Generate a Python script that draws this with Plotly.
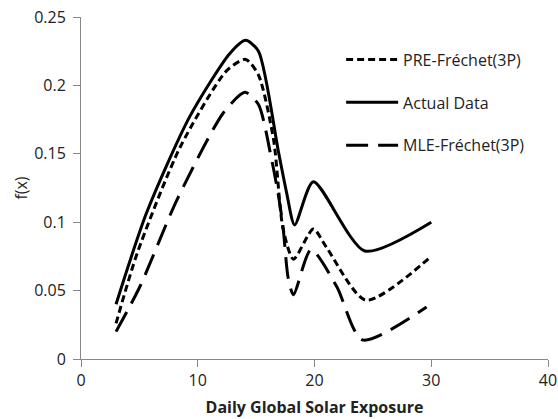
import plotly.graph_objects as go

# Actual data
act_x = [3, 5.6, 9.3, 12.75, 14.1, 15.2, 16.9, 17.6, 18.3, 19.9, 24.3, 30]
act_y = [0.040, 0.1065, 0.177, 0.2234, 0.233, 0.225, 0.152, 0.122, 0.098, 0.1296, 0.079, 0.100]

# PRE-Fréchet(3P)
pre_x = [3, 4.8, 8.5, 12.5, 14.1, 15.2, 16.5, 17.3, 18.2, 19.9, 21, 24.4, 30]
pre_y = [0.026, 0.077, 0.155, 0.211, 0.219, 0.2076, 0.160, 0.0955, 0.073, 0.095, 0.082, 0.043, 0.075]

# MLE-Fréchet(3P)
mle_x = [3, 5.05, 8.2, 12.2, 14.05, 15.2, 16.3, 16.9, 17.3, 17.75, 18.2, 19.7, 21.9, 24.1, 29.6]
mle_y = [0.020, 0.053, 0.116, 0.180, 0.195, 0.186, 0.147, 0.120, 0.097, 0.059, 0.047, 0.080, 0.053, 0.014, 0.038]

x_ticks = [0, 10, 20, 30, 40]
y_ticks = [0, 0.05, 0.1, 0.15, 0.2, 0.25]
y_tick_labels = ["0", "0.05", "0.1", "0.15", "0.2", "0.25"]

FONT = "Open Sans"
FS = 16

fig = go.Figure()
fig.add_trace(go.Scatter(x=pre_x, y=pre_y, mode="lines", name="PRE-Fréchet(3P)",
                         legendgroup="a",
                         line=dict(color="black", width=3, dash="7px,4px", shape="spline", smoothing=0.7)))
fig.add_trace(go.Scatter(x=act_x, y=act_y, mode="lines", name="Actual Data",
                         legendgroup="b",
                         line=dict(color="black", width=3, shape="spline", smoothing=0.7)))
fig.add_trace(go.Scatter(x=mle_x, y=mle_y, mode="lines", name="MLE-Fréchet(3P)",
                         legendgroup="c",
                         line=dict(color="black", width=3, dash="22px,10px", shape="spline", smoothing=0.7)))

fig.update_layout(
    width=558, height=419,
    margin=dict(l=81, r=10, t=17, b=60, autoexpand=False),
    paper_bgcolor="white", plot_bgcolor="white",
    font=dict(family=FONT, size=FS, color="#222"),
    showlegend=True,
    legend=dict(x=0.557, y=0.925, xanchor="left", yanchor="top",
                bgcolor="rgba(0,0,0,0)", traceorder="grouped",
                tracegroupgap=19, itemwidth=52,
                font=dict(family=FONT, size=FS, color="#222")),
    xaxis=dict(range=[0, 40], tickvals=x_ticks, showgrid=False, zeroline=False,
               showline=True, linecolor="#888", linewidth=1,
               ticks="outside", ticklen=7, tickcolor="#888", automargin=False,
               title=dict(text="<b>Daily Global Solar Exposure</b>", standoff=11,
                          font=dict(family=FONT, size=FS))),
    yaxis=dict(range=[0, 0.25], tickvals=y_ticks, ticktext=y_tick_labels,
               showgrid=False, zeroline=False, automargin=False,
               showline=True, linecolor="#888", linewidth=1,
               ticks="outside", ticklen=7, tickcolor="#888", ticklabelstandoff=4,
               title=dict(text="f(x)", standoff=2, font=dict(family=FONT, size=FS))),
)

fig.write_html("out.html")
